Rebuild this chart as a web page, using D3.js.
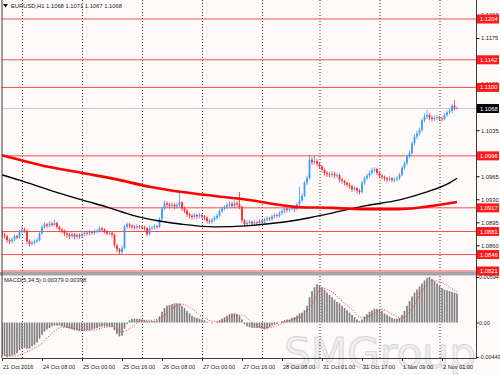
<!DOCTYPE html>
<html>
<head>
<meta charset="utf-8">
<script src="https://cdn.jsdelivr.net/npm/d3@7"></script>
<style>
    body { margin: 0; background: #fffafa; }
    svg text { font-family: "Liberation Sans", Arial, sans-serif; font-size: 5.8px; fill: #1a1a1a; }
</style>
</head>
<body>
<div id="chart"></div>
<script>
// EURUSD H1, 183 bars (21 Oct 2016 16:00 .. 2 Nov), open of each bar = close of the one before
const firstOpen = 1.0880
const closes = [
    1.0876, 1.0874, 1.0868, 1.0866, 1.0869, 1.0874, 1.0872, 1.0880, 1.0884, 1.0882,
    1.0866, 1.0862, 1.0864, 1.0866, 1.0868, 1.0878, 1.0888, 1.0892, 1.0890, 1.0893,
    1.0891, 1.0894, 1.0888, 1.0884, 1.0882, 1.0878, 1.0876, 1.0874, 1.0877, 1.0873,
    1.0876, 1.0874, 1.0877, 1.0879, 1.0878, 1.0880, 1.0879, 1.0881, 1.0882, 1.0886,
    1.0884, 1.0881, 1.0878, 1.0879, 1.0876, 1.0860, 1.0854, 1.0850, 1.0856, 1.0888,
    1.0892, 1.0890, 1.0888, 1.0887, 1.0889, 1.0888, 1.0887, 1.0886, 1.0877, 1.0886,
    1.0887, 1.0889, 1.0888, 1.0900, 1.0916, 1.0924, 1.0922, 1.0920, 1.0922, 1.0919,
    1.0921, 1.0925, 1.0916, 1.0913, 1.0907, 1.0905, 1.0903, 1.0906, 1.0904, 1.0906,
    1.0904, 1.0902, 1.0897, 1.0896, 1.0899, 1.0902, 1.0905, 1.0912, 1.0916, 1.0918,
    1.0921, 1.0923, 1.0920, 1.0924, 1.0922, 1.0918, 1.0898, 1.0892, 1.0894, 1.0896,
    1.0893, 1.0895, 1.0894, 1.0897, 1.0896, 1.0899, 1.0901, 1.0900, 1.0904, 1.0906,
    1.0905, 1.0909, 1.0912, 1.0916, 1.0914, 1.0916, 1.0917, 1.0915, 1.0922, 1.0928,
    1.0935, 1.0955, 1.0962, 1.0990, 1.0986, 1.0988, 1.0984, 1.0980, 1.0975, 1.0970,
    1.0968, 1.0967, 1.0969, 1.0966, 1.0967, 1.0960, 1.0958, 1.0955, 1.0952, 1.0950,
    1.0945, 1.0947, 1.0943, 1.0941, 1.0955, 1.0962, 1.0966, 1.0970, 1.0974, 1.0976,
    1.0970, 1.0966, 1.0964, 1.0962, 1.0960, 1.0962, 1.0959, 1.0960, 1.0962, 1.0967,
    1.0978, 1.0985, 1.0995, 1.1000, 1.1015, 1.1025, 1.1030, 1.1035, 1.1050, 1.1056,
    1.1058, 1.1054, 1.1052, 1.1054, 1.1055, 1.1053, 1.1052, 1.1058, 1.1062, 1.1064,
    1.1072, 1.1068, 1.1068
]
const highs = [
    1.0883, 1.0879, 1.0876, 1.0871, 1.0872, 1.0877, 1.0876, 1.0884, 1.0889, 1.0887,
    1.0884, 1.0869, 1.0867, 1.0869, 1.0871, 1.0881, 1.0891, 1.0895, 1.0894, 1.0897,
    1.0896, 1.0899, 1.0896, 1.0890, 1.0887, 1.0884, 1.0881, 1.0879, 1.0880, 1.0879,
    1.0879, 1.0878, 1.0880, 1.0882, 1.0881, 1.0883, 1.0882, 1.0884, 1.0885, 1.0889,
    1.0888, 1.0886, 1.0883, 1.0882, 1.0881, 1.0878, 1.0862, 1.0856, 1.0860, 1.0891,
    1.0895, 1.0894, 1.0892, 1.0891, 1.0892, 1.0891, 1.0890, 1.0890, 1.0888, 1.0889,
    1.0890, 1.0892, 1.0891, 1.0903, 1.0919, 1.0928, 1.0927, 1.0925, 1.0926, 1.0924,
    1.0925, 1.0944, 1.0927, 1.0919, 1.0915, 1.0910, 1.0908, 1.0909, 1.0908, 1.0909,
    1.0908, 1.0906, 1.0904, 1.0900, 1.0902, 1.0905, 1.0908, 1.0915, 1.0919, 1.0921,
    1.0925, 1.0927, 1.0926, 1.0928, 1.0927, 1.0941, 1.0920, 1.0900, 1.0898, 1.0899,
    1.0898, 1.0898, 1.0897, 1.0900, 1.0899, 1.0902, 1.0904, 1.0903, 1.0907, 1.0909,
    1.0908, 1.0912, 1.0915, 1.0919, 1.0918, 1.0919, 1.0920, 1.0919, 1.0925, 1.0949,
    1.0939, 1.0958, 1.0966, 1.0998, 1.0994, 1.0996, 1.0991, 1.0987, 1.0982, 1.0977,
    1.0973, 1.0971, 1.0973, 1.0972, 1.0970, 1.0969, 1.0963, 1.0960, 1.0957, 1.0955,
    1.0952, 1.0950, 1.0949, 1.0946, 1.0958, 1.0965, 1.0969, 1.0974, 1.0978, 1.0979,
    1.0978, 1.0972, 1.0968, 1.0966, 1.0964, 1.0965, 1.0964, 1.0963, 1.0965, 1.0970,
    1.0981, 1.0988, 1.0998, 1.1004, 1.1018, 1.1029, 1.1034, 1.1039, 1.1053, 1.1060,
    1.1066, 1.1061, 1.1057, 1.1057, 1.1058, 1.1057, 1.1056, 1.1061, 1.1065, 1.1067,
    1.1075, 1.1081, 1.1071
]
const lows = [
    1.0872, 1.0870, 1.0864, 1.0862, 1.0863, 1.0866, 1.0869, 1.0870, 1.0878, 1.0879,
    1.0862, 1.0858, 1.0860, 1.0861, 1.0864, 1.0866, 1.0876, 1.0885, 1.0886, 1.0887,
    1.0888, 1.0889, 1.0885, 1.0880, 1.0878, 1.0874, 1.0871, 1.0869, 1.0871, 1.0869,
    1.0870, 1.0870, 1.0871, 1.0874, 1.0875, 1.0875, 1.0876, 1.0876, 1.0878, 1.0880,
    1.0881, 1.0878, 1.0875, 1.0875, 1.0872, 1.0857, 1.0850, 1.0846, 1.0845, 1.0854,
    1.0885, 1.0886, 1.0884, 1.0884, 1.0884, 1.0885, 1.0884, 1.0882, 1.0874, 1.0875,
    1.0883, 1.0884, 1.0885, 1.0886, 1.0898, 1.0913, 1.0918, 1.0916, 1.0917, 1.0915,
    1.0916, 1.0918, 1.0912, 1.0909, 1.0903, 1.0901, 1.0899, 1.0900, 1.0900, 1.0901,
    1.0900, 1.0898, 1.0893, 1.0892, 1.0893, 1.0896, 1.0899, 1.0903, 1.0909, 1.0913,
    1.0915, 1.0918, 1.0917, 1.0917, 1.0918, 1.0915, 1.0894, 1.0888, 1.0889, 1.0891,
    1.0890, 1.0890, 1.0891, 1.0891, 1.0893, 1.0893, 1.0896, 1.0897, 1.0897, 1.0901,
    1.0902, 1.0902, 1.0906, 1.0909, 1.0910, 1.0911, 1.0913, 1.0911, 1.0913, 1.0919,
    1.0925, 1.0933, 1.0952, 1.0960, 1.0982, 1.0983, 1.0980, 1.0976, 1.0971, 1.0966,
    1.0964, 1.0963, 1.0963, 1.0962, 1.0962, 1.0956, 1.0954, 1.0951, 1.0948, 1.0946,
    1.0941, 1.0942, 1.0939, 1.0937, 1.0939, 1.0952, 1.0959, 1.0963, 1.0967, 1.0971,
    1.0967, 1.0962, 1.0960, 1.0958, 1.0956, 1.0957, 1.0956, 1.0956, 1.0957, 1.0959,
    1.0965, 1.0975, 1.0982, 1.0992, 1.0997, 1.1012, 1.1021, 1.1027, 1.1032, 1.1047,
    1.1052, 1.1050, 1.1048, 1.1049, 1.1050, 1.1049, 1.1048, 1.1050, 1.1055, 1.1059,
    1.1061, 1.1065, 1.1067
]

// moving averages: [bar, price]
const redMA = [[0, 1.0997], [7, 1.0990], [19, 1.0979], [32, 1.0970], [45, 1.0961], [59, 1.0949],
    [72, 1.0941], [85, 1.0935], [99, 1.0929], [112, 1.0921], [119, 1.0918], [132, 1.0917],
    [145, 1.0915], [159, 1.0915], [168, 1.0918], [179, 1.0924], [182, 1.0926]]
const blackMA = [[0, 1.0967], [7, 1.0959], [19, 1.0944], [32, 1.0929], [43, 1.0917], [52, 1.0906],
    [63, 1.0897], [72, 1.0892], [85, 1.0888], [99, 1.0890], [112, 1.0895], [123, 1.0902],
    [132, 1.0909], [145, 1.0920], [159, 1.0929], [169, 1.0940], [179, 1.0955], [182, 1.0962]]

const levels = [1.1204, 1.1142, 1.1100, 1.0996, 1.0917, 1.0881, 1.0846, 1.0821]
const lastPrice = 1.1068
const priceTicks = [1.0860, 1.0895, 1.0930, 1.0965, 1.1000, 1.1035, 1.1070, 1.1105, 1.1140, 1.1175, 1.1210]
const header = "EURUSD,H1  1.1068 1.1071 1.1067 1.1068"

// MACD(5,34,5) histogram, one value per bar
const macd = [
    -0.0041, -0.0043, -0.0045, -0.0044, -0.0043, -0.0042, -0.0040, -0.0036, -0.0034, -0.0033,
    -0.0034, -0.0034, -0.0031, -0.0029, -0.0026, -0.0021, -0.0016, -0.0012, -0.0009, -0.0007,
    -0.0005, -0.0004, -0.0004, -0.0004, -0.0005, -0.0006, -0.0007, -0.0008, -0.0009, -0.0010,
    -0.0010, -0.0011, -0.0011, -0.0011, -0.0010, -0.0010, -0.0009, -0.0008, -0.0007, -0.0006,
    -0.0005, -0.0005, -0.0005, -0.0005, -0.0006, -0.0010, -0.0015, -0.0018, -0.0017, -0.0008,
    -0.0002, 0.0003, 0.0005, 0.0005, 0.0005, 0.0005, 0.0004, 0.0003, 0.0002, 0.0002,
    0.0002, 0.0002, 0.0003, 0.0008, 0.0014, 0.0019, 0.0022, 0.0023, 0.0024, 0.0025,
    0.0025, 0.0025, 0.0022, 0.0019, 0.0015, 0.0012, 0.0009, 0.0007, 0.0006, 0.0005,
    0.0004, 0.0003, 0.0001, 0.0000, -0.0001, 0.0000, 0.0001, 0.0003, 0.0005, 0.0007,
    0.0009, 0.0011, 0.0012, 0.0012, 0.0011, 0.0009, 0.0004, -0.0002, -0.0005, -0.0006,
    -0.0007, -0.0007, -0.0007, -0.0007, -0.0008, -0.0009, -0.0008, -0.0006, -0.0004, -0.0003,
    -0.0002, 0.0000, 0.0002, 0.0003, 0.0004, 0.0004, 0.0006, 0.0007, 0.0009, 0.0012,
    0.0013, 0.0016, 0.0022, 0.0033, 0.0041, 0.0046, 0.0050, 0.0049, 0.0046, 0.0043,
    0.0039, 0.0036, 0.0033, 0.0030, 0.0027, 0.0025, 0.0022, 0.0019, 0.0016, 0.0013,
    0.0010, 0.0007, 0.0004, 0.0002, 0.0004, 0.0008, 0.0011, 0.0014, 0.0016, 0.0018,
    0.0018, 0.0017, 0.0015, 0.0012, 0.0010, 0.0008, 0.0006, 0.0005, 0.0005, 0.0006,
    0.0010, 0.0015, 0.0022, 0.0028, 0.0034, 0.0039, 0.0043, 0.0047, 0.0051, 0.0055,
    0.0058, 0.00594, 0.0057, 0.0054, 0.0051, 0.0048, 0.0045, 0.0043, 0.0042, 0.0041,
    0.0040, 0.0039, 0.00379
]
// signal line (dotted), [bar, value]
const signal = [[0, -0.0042], [4, -0.0044], [8, -0.0041], [12, -0.0035], [16, -0.0027], [20, -0.0014],
    [24, -0.0006], [28, -0.0007], [32, -0.0010], [36, -0.0010], [40, -0.0007], [44, -0.0005],
    [48, -0.0012], [52, -0.0006], [56, 0.0003], [60, 0.0003], [64, 0.0007], [68, 0.0018],
    [72, 0.0024], [76, 0.0018], [80, 0.0008], [84, 0.0002], [88, 0.0001], [92, 0.0008],
    [96, 0.0010], [100, 0.0000], [104, -0.0007], [108, -0.0006], [112, -0.0001], [116, 0.0004],
    [120, 0.0009], [124, 0.0024], [128, 0.0045], [132, 0.0040], [136, 0.0028], [140, 0.0017],
    [144, 0.0006], [148, 0.0010], [152, 0.0017], [156, 0.0011], [160, 0.0006], [164, 0.0018],
    [168, 0.0041], [172, 0.0055], [176, 0.0052], [180, 0.0044], [182, 0.00398]]
const macdTicks = [0.00594, 0, -0.00449]
const macdLabel = "MACD(5,34,5) 0.00379 0.00398"

const timeLabels = ["21 Oct 2016", "24 Oct 08:00", "25 Oct 00:00", "25 Oct 16:00", "26 Oct 08:00", "27 Oct 00:00",
    "27 Oct 16:00", "28 Oct 08:00", "31 Oct 01:00", "31 Oct 17:00", "1 Nov 09:00", "2 Nov 01:00"]
const timeLabelBars = [0, 16, 32, 48, 64, 80, 96, 112, 128, 144, 160, 176]
const dayStartBars = [8, 32, 56, 80, 104, 127, 151, 175]

const width = 500, height = 375
const left = 2, right = 476
const mainTop = 0, mainBottom = 272
const macdTop = 276, macdBottom = 358

const bull = "#3a9bff", bear = "#ff2b2b"

const svg = d3.select("#chart").append("svg")
    .attr("width", width)
    .attr("height", height)

svg.append("rect").attr("width", width).attr("height", height).attr("fill", "#fffafa")

var x = d3.scaleLinear().domain([0, 189.6]).range([left, right])
var y = d3.scaleLinear().domain([1.0821, 1.1204]).range([271, 19])
var ym = d3.scaleLinear().domain([-0.00449, 0.00594]).range([357, 277])

const defs = svg.append("defs")
defs.append("clipPath").attr("id", "clipMain").append("rect")
    .attr("x", left).attr("y", mainTop).attr("width", right - left).attr("height", mainBottom - mainTop)
defs.append("clipPath").attr("id", "clipMacd").append("rect")
    .attr("x", left).attr("y", macdTop).attr("width", right - left).attr("height", macdBottom - macdTop)

// watermark
svg.append("text")
    .attr("x", 284).attr("y", 368)
    .attr("textLength", 192).attr("lengthAdjust", "spacingAndGlyphs")
    .style("font-family", "DejaVu Sans")
    .style("font-size", "42px")
    .style("fill", "#f0eeee")
    .style("stroke", "#d6d6d6")
    .style("stroke-width", 1)
    .text("SMGroup")

const main = svg.append("g").attr("clip-path", "url(#clipMain)")
const sub = svg.append("g").attr("clip-path", "url(#clipMacd)")

// day separators
;[[main, mainTop, mainBottom], [sub, macdTop, macdBottom]].forEach(([g, t, b]) => {
    g.selectAll(".vgrid").data(dayStartBars).enter().append("line")
        .attr("x1", d => x(d) + 0.5).attr("x2", d => x(d) + 0.5)
        .attr("y1", t).attr("y2", b)
        .attr("stroke", "#3c3c3c").attr("stroke-width", 1)
        .attr("stroke-dasharray", "1,2")
})

// horizontal levels
main.selectAll(".level").data(levels).enter().append("line")
    .attr("x1", left).attr("x2", right)
    .attr("y1", d => y(d)).attr("y2", d => y(d))
    .attr("stroke", "#ff4a4a").attr("stroke-width", 1)

main.append("line")
    .attr("x1", left).attr("x2", right)
    .attr("y1", y(lastPrice)).attr("y2", y(lastPrice))
    .attr("stroke", "#c8c8c8").attr("stroke-width", 1)

// candles
const bars = closes.map((c, i) => ({
    i: i, o: i === 0 ? firstOpen : closes[i - 1], h: highs[i], l: lows[i], c: c
}))

main.selectAll(".wick").data(bars).enter().append("line")
    .attr("x1", d => x(d.i)).attr("x2", d => x(d.i))
    .attr("y1", d => y(d.h)).attr("y2", d => y(d.l))
    .attr("stroke", d => d.c >= d.o ? bull : bear)
    .attr("stroke-width", 0.8)

main.selectAll(".body").data(bars).enter().append("rect")
    .attr("x", d => x(d.i) - 0.9)
    .attr("width", 1.8)
    .attr("y", d => y(Math.max(d.o, d.c)))
    .attr("height", d => Math.max(0.8, Math.abs(y(d.o) - y(d.c))))
    .attr("fill", d => d.c >= d.o ? bull : bear)

// moving averages
const maLine = d3.line().x(d => x(d[0])).y(d => y(d[1])).curve(d3.curveMonotoneX)
main.append("path").datum(blackMA)
    .attr("d", maLine).attr("fill", "none")
    .attr("stroke", "#000").attr("stroke-width", 1.4)
main.append("path").datum(redMA)
    .attr("d", maLine).attr("fill", "none")
    .attr("stroke", "#ff0000").attr("stroke-width", 2.6)

// MACD pane
sub.selectAll(".hist").data(macd).enter().append("rect")
    .attr("x", (d, i) => x(i) - 0.8)
    .attr("width", 1.6)
    .attr("y", d => Math.min(ym(0), ym(d)))
    .attr("height", d => Math.abs(ym(d) - ym(0)))
    .attr("fill", "#7a7a7a")

sub.append("path").datum(signal)
    .attr("d", d3.line().x(d => x(d[0])).y(d => ym(d[1])).curve(d3.curveMonotoneX))
    .attr("fill", "none")
    .attr("stroke", "#ff3030").attr("stroke-width", 1)
    .attr("stroke-dasharray", "1,1.6")

svg.append("text").attr("x", 4).attr("y", 282).text(macdLabel)

// pane separator and frame
svg.append("rect").attr("x", 0).attr("y", 272).attr("width", right).attr("height", 3.5).attr("fill", "#a4a4a4")
svg.append("line").attr("x1", left).attr("x2", left).attr("y1", 0).attr("y2", macdBottom)
    .attr("stroke", "#3c3c3c").attr("stroke-width", 1)
svg.append("line").attr("x1", left).attr("x2", right + 0.5).attr("y1", macdBottom + 0.5).attr("y2", macdBottom + 0.5)
    .attr("stroke", "#3c3c3c").attr("stroke-width", 1)
svg.append("line").attr("x1", right + 0.5).attr("x2", right + 0.5).attr("y1", 0).attr("y2", macdBottom + 0.5)
    .attr("stroke", "#3c3c3c").attr("stroke-width", 1)

// price axis
const axisMain = svg.append("g")
    .attr("transform", "translate(" + (right + 0.5) + ",0)")
    .call(d3.axisRight(y).tickValues(priceTicks).tickSize(3).tickPadding(1.5).tickFormat(d3.format(".4f")))
axisMain.select(".domain").remove()
axisMain.selectAll("text").style("font-size", "5.8px").attr("fill", "#1a1a1a")

const levelTags = svg.selectAll(".tag").data(levels).enter().append("g")
    .attr("transform", d => "translate(" + (right + 1) + "," + y(d) + ")")
levelTags.append("rect").attr("x", 0).attr("y", -4.5).attr("width", 22).attr("height", 9).attr("fill", "#ff1a1a")
levelTags.append("text").attr("x", 3).attr("dy", "0.35em").style("fill", "#fff").text(d => d.toFixed(4))

const priceTag = svg.append("g").attr("transform", "translate(" + (right + 1) + "," + y(lastPrice) + ")")
priceTag.append("rect").attr("x", 0).attr("y", -4.5).attr("width", 22).attr("height", 9).attr("fill", "#000")
priceTag.append("text").attr("x", 3).attr("dy", "0.35em").style("fill", "#fff").text(lastPrice.toFixed(4))

// MACD axis
const axisSub = svg.append("g")
    .attr("transform", "translate(" + (right + 0.5) + ",0)")
    .call(d3.axisRight(ym).tickValues(macdTicks).tickSize(2).tickPadding(0.5)
        .tickFormat(d => d === 0 ? "0.00" : d.toFixed(5)))
axisSub.select(".domain").remove()
axisSub.selectAll("text").style("font-size", "5.5px").attr("fill", "#1a1a1a")

// time axis
const timeG = svg.selectAll(".tlabel").data(timeLabels).enter().append("g")
    .attr("transform", (d, i) => "translate(" + x(timeLabelBars[i]) + "," + macdBottom + ")")
timeG.append("line").attr("x1", 0.5).attr("x2", 0.5).attr("y1", 0).attr("y2", 3).attr("stroke", "#3c3c3c")
timeG.append("text").attr("x", 1).attr("y", 11).style("font-size", "5.6px").text(d => d)

// header
svg.append("path").attr("d", "M3,4 L8,4 L5.5,7.5 Z").attr("fill", "#1a1a1a")
svg.append("text").attr("x", 11).attr("y", 8).text(header)
</script>
</body>
</html>
